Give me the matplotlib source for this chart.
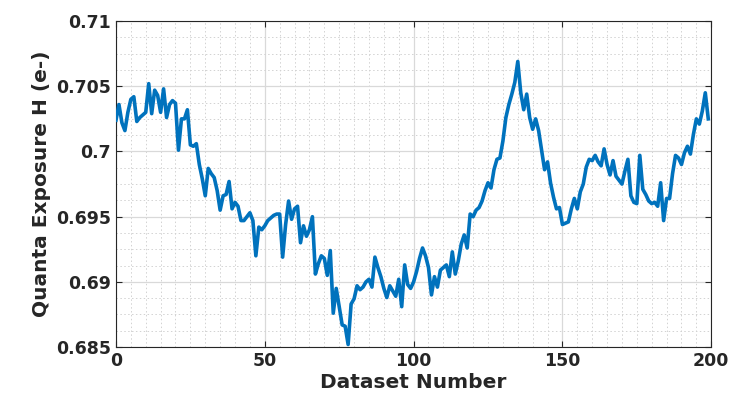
import numpy as np
import matplotlib
matplotlib.use("Agg")
import matplotlib.pyplot as plt
from matplotlib.ticker import MultipleLocator

dataset = list(range(0, 200))
quanta_h = [
    0.7024, 0.7036, 0.7022, 0.7016, 0.7030, 0.7040, 0.7042, 0.7023, 0.7026, 0.7028,
    0.7030, 0.7052, 0.7029, 0.7047, 0.7043, 0.7030, 0.7048, 0.7026, 0.7036, 0.7039,
    0.7037, 0.7001, 0.7025, 0.7025, 0.7032, 0.7005, 0.7004, 0.7006, 0.6990, 0.6979,
    0.6966, 0.6987, 0.6983, 0.6980, 0.6970, 0.6955, 0.6966, 0.6967, 0.6977, 0.6956,
    0.6961, 0.6958, 0.6947, 0.6947, 0.6950, 0.6953, 0.6947, 0.6920, 0.6942, 0.6940,
    0.6943, 0.6947, 0.6949, 0.6951, 0.6952, 0.6952, 0.6919, 0.6944, 0.6962, 0.6948,
    0.6956, 0.6958, 0.6930, 0.6943, 0.6935, 0.6940, 0.6950, 0.6906, 0.6914, 0.6920,
    0.6918, 0.6905, 0.6924, 0.6876, 0.6895, 0.6881, 0.6867, 0.6866, 0.6852, 0.6883,
    0.6887, 0.6897, 0.6894, 0.6896, 0.6900, 0.6902, 0.6896, 0.6919, 0.6911, 0.6904,
    0.6895, 0.6888, 0.6897, 0.6893, 0.6889, 0.6902, 0.6881, 0.6913, 0.6898, 0.6895,
    0.6900, 0.6908, 0.6918, 0.6926, 0.6920, 0.6911, 0.6890, 0.6904, 0.6896, 0.6909,
    0.6911, 0.6913, 0.6904, 0.6923, 0.6906, 0.6916, 0.6929, 0.6936, 0.6926, 0.6952,
    0.6950, 0.6955, 0.6957, 0.6962, 0.6970, 0.6976, 0.6972, 0.6986, 0.6994, 0.6995,
    0.7008, 0.7026, 0.7036, 0.7044, 0.7053, 0.7069, 0.7045, 0.7032, 0.7044, 0.7026,
    0.7017, 0.7025, 0.7016, 0.7001, 0.6986, 0.6992, 0.6976, 0.6965, 0.6956, 0.6957,
    0.6944, 0.6945, 0.6946, 0.6956, 0.6964, 0.6956, 0.6969, 0.6975, 0.6988, 0.6994,
    0.6993, 0.6997, 0.6992, 0.6989, 0.7002, 0.6990, 0.6982, 0.6993, 0.6981, 0.6978,
    0.6975, 0.6985, 0.6994, 0.6966, 0.6961, 0.6960, 0.6997, 0.6971, 0.6967, 0.6962,
    0.6960, 0.6961, 0.6958, 0.6976, 0.6947, 0.6964, 0.6964, 0.6983, 0.6997, 0.6995,
    0.6990, 0.6999, 0.7004, 0.6998, 0.7013, 0.7025, 0.7021, 0.7031, 0.7045, 0.7025,
]
x_ticks = [0, 50, 100, 150, 200]
y_ticks = [0.685, 0.69, 0.695, 0.7, 0.705, 0.71]
y_tick_labels = ["0.685", "0.69", "0.695", "0.7", "0.705", "0.71"]

plt.rcParams['font.family'] = ['DejaVu Sans']
fig = plt.figure(figsize=(7.34, 4.05), dpi=100)
ax = fig.add_axes([0.158, 0.143, 0.811, 0.805])

ax.plot(dataset, quanta_h, color='#0072BD', linewidth=2.6, zorder=3)

ax.set_xlim(0, 200)
ax.set_ylim(0.685, 0.71)
ax.set_xticks(x_ticks)
ax.set_yticks(y_ticks)
ax.set_yticklabels(y_tick_labels)
ax.xaxis.set_minor_locator(MultipleLocator(5))
ax.yaxis.set_minor_locator(MultipleLocator(0.00125))

ax.grid(which='major', color='#d9d9d9', linewidth=0.9, linestyle='-')
ax.grid(which='minor', color='#d2d2d2', linewidth=0.7, linestyle=(0, (1.5, 2.5)))
ax.set_axisbelow(True)

ax.tick_params(which='both', direction='in', top=True, right=True,
               colors='#262626', labelsize=12.5)
ax.tick_params(which='major', length=4, width=0.8)
ax.tick_params(which='minor', length=0)
for lab in ax.get_xticklabels() + ax.get_yticklabels():
    lab.set_fontweight('bold')
for s in ax.spines.values():
    s.set_color('#262626')
    s.set_linewidth(0.8)

ax.set_xlabel('Dataset Number', fontsize=14.5, fontweight='bold', color='#262626', labelpad=2)
ax.set_ylabel('Quanta Exposure H (e-)', fontsize=14.5, fontweight='bold', color='#262626', labelpad=4)

fig.savefig('out.png', dpi=100)
